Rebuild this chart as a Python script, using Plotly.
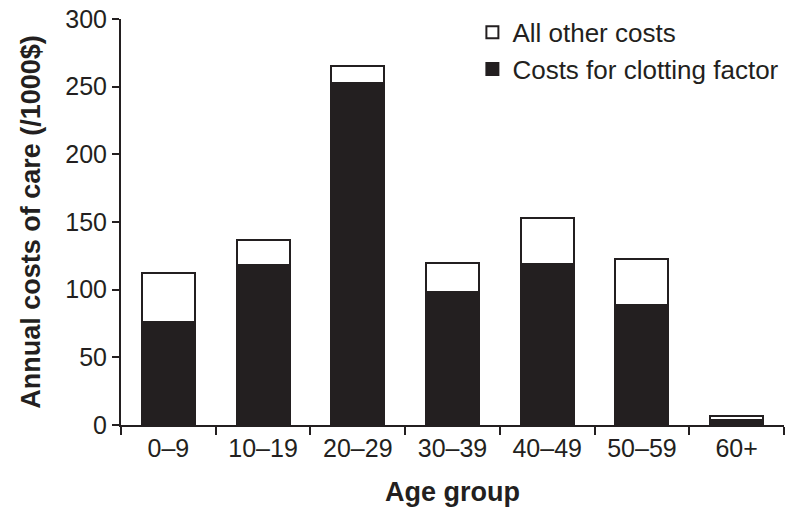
import plotly.graph_objects as go

age_groups = ["0–9", "10–19", "20–29", "30–39", "40–49", "50–59", "60+"]
clotting_factor = [76, 118, 253, 98, 119, 89, 4]
other_costs = [36, 19, 12, 22, 34, 34, 3]

ink = "#231f20"
font_family = "Liberation Sans, Arial, Helvetica, sans-serif"

fig = go.Figure()
fig.add_trace(go.Bar(
    x=age_groups, y=clotting_factor, name="Costs for clotting factor",
    marker=dict(color=ink, line=dict(color=ink, width=2)),
))
fig.add_trace(go.Bar(
    x=age_groups, y=other_costs, name="All other costs",
    marker=dict(color="white", line=dict(color=ink, width=2)),
))

fig.update_layout(
    width=787, height=510,
    barmode="stack", bargap=0.44,
    plot_bgcolor="white", paper_bgcolor="white",
    margin=dict(l=121, r=3, t=19, b=85, autoexpand=False),
    font=dict(family=font_family, color=ink, size=25),
    legend=dict(
        x=0.53, y=1.025, xanchor="left", yanchor="top",
        traceorder="reversed", font=dict(size=26, color=ink),
        bgcolor="rgba(0,0,0,0)", itemwidth=30, tracegroupgap=0,
    ),
    xaxis=dict(
        automargin=False,
        showline=True, linecolor=ink, linewidth=2,
        ticks="outside", ticklen=8, tickwidth=2, tickcolor=ink,
        tickson="boundaries", range=[-0.5, 6.5],
        title=dict(text="<b>Age group</b>", font=dict(size=27), standoff=21),
        tickfont=dict(size=25),
    ),
    yaxis=dict(
        automargin=False,
        range=[0, 300], dtick=50, showgrid=False, zeroline=False,
        showline=True, linecolor=ink, linewidth=2,
        ticks="outside", ticklen=7, tickwidth=2, tickcolor=ink,
        ticklabeloverflow="allow",
        title=dict(text="<b>Annual costs of care (/1000$)</b>", font=dict(size=27), standoff=17),
        tickfont=dict(size=25),
    ),
)

fig.write_html(
    "out.html",
    config={"displayModeBar": False},
    post_script="document.body.style.margin='0px';",
)
